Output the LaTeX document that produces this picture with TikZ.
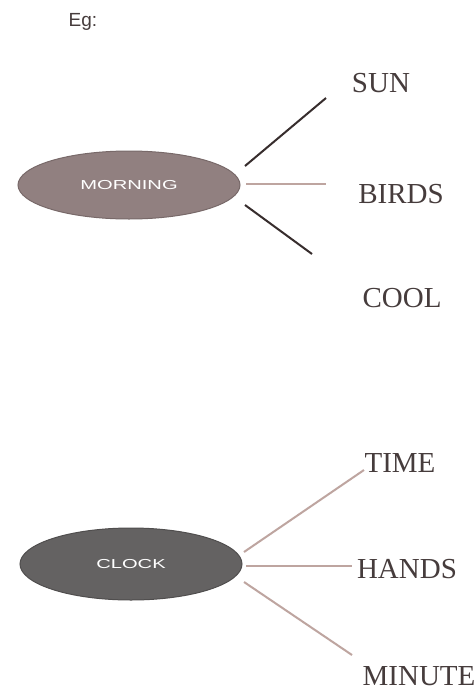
\documentclass[tikz,border=0pt]{standalone}
\usepackage{fontspec}
\setmainfont{Liberation Serif}
\newfontfamily\labsans{Liberation Sans}
\newfontfamily\widesans[FakeStretch=1.55]{Liberation Sans}
\usetikzlibrary{shapes.geometric}
\definecolor{darkln}{RGB}{55,45,45}
\definecolor{lightln}{RGB}{190,165,160}
\definecolor{ellA}{RGB}{145,128,128}
\definecolor{ellAedge}{RGB}{120,105,105}
\definecolor{ellB}{RGB}{100,98,98}
\definecolor{ellBedge}{RGB}{80,78,78}
\definecolor{labtxt}{RGB}{70,60,60}
\tikzset{
  bubble/.style={ellipse, minimum width=222pt, minimum height=68pt, inner sep=0pt, line width=1pt, text=white, font=\widesans\fontsize{13}{13}\selectfont},
  word/.style={text=labtxt, font=\fontsize{29}{29}\selectfont, inner sep=0pt},
  darkline/.style={draw=darkln, line width=2pt},
  lightline/.style={draw=lightln, line width=2pt}
}
\begin{document}
\begin{tikzpicture}[x=1pt,y=-1pt]
\useasboundingbox[fill=white] (0,0) rectangle (476,694);
\node[text=labtxt, font=\labsans\fontsize{19}{19}\selectfont, inner sep=0pt] (eg) at (83,22) {Eg:};
% upper group
\node[bubble, fill=ellA, draw=ellAedge] (morning) at (129,185) {MORNING};
\node[word] (sun) at (381,83) {SUN};
\node[word] (birds) at (401,194) {BIRDS};
\node[word] (cool) at (402,298) {COOL};
\coordinate (s1) at (245,166);
\coordinate (s2) at (326,98);
\coordinate (b1) at (246,184);
\coordinate (b2) at (326,184);
\coordinate (c1) at (245,205);
\coordinate (c2) at (312,254);
\draw[darkline] (s1) -- (s2);
\draw[lightline] (b1) -- (b2);
\draw[darkline] (c1) -- (c2);
% lower group
\node[bubble, fill=ellB, draw=ellBedge, minimum height=72pt] (clock) at (131,564) {CLOCK};
\node[word] (time) at (400,463) {TIME};
\node[word] (hands) at (407,569) {HANDS};
\node[word] (minute) at (419,676) {MINUTE};
\coordinate (t1) at (244,552);
\coordinate (t2) at (364,470);
\coordinate (h1) at (246,566);
\coordinate (h2) at (352,566);
\coordinate (m1) at (244,582);
\coordinate (m2) at (352,655);
\draw[lightline] (t1) -- (t2);
\draw[lightline] (h1) -- (h2);
\draw[lightline] (m1) -- (m2);
\end{tikzpicture}
\end{document}
